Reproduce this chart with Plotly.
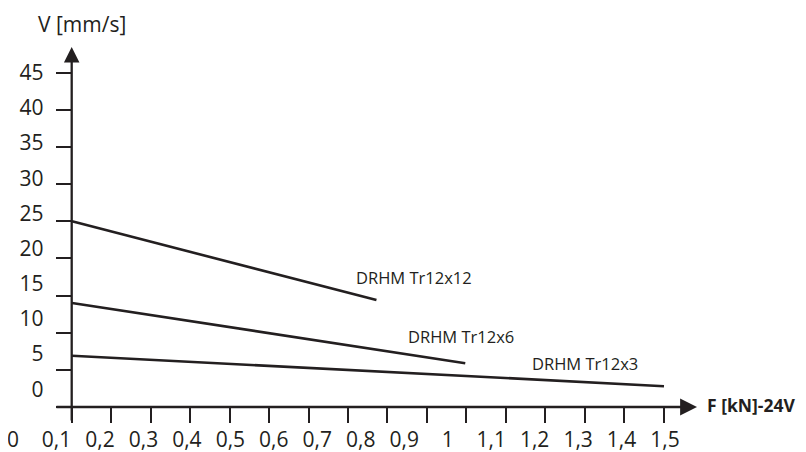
import plotly.graph_objects as go

# ---------------- data ----------------
series_names = ["DRHM Tr12x12", "DRHM Tr12x6", "DRHM Tr12x3"]
f_tr12x12 = [0.10, 0.82]
v_tr12x12 = [25.0, 14.4]
f_tr12x6 = [0.10, 1.03]
v_tr12x6 = [14.0, 5.9]
f_tr12x3 = [0.10, 1.50]
v_tr12x3 = [6.9, 2.8]

x_tick_values = [0, 0.1, 0.2, 0.3, 0.4, 0.5, 0.6, 0.7, 0.8, 0.9, 1.0, 1.1, 1.2, 1.3, 1.4, 1.5]
x_tick_labels = ["0", "0,1", "0,2", "0,3", "0,4", "0,5", "0,6", "0,7", "0,8", "0,9", "1",
                 "1,1", "1,2", "1,3", "1,4", "1,5"]
x_mark_values = [0.1, 0.2, 0.3, 0.4, 0.5, 0.6, 0.7, 0.8, 0.9, 1.0, 1.1, 1.2, 1.3, 1.4, 1.5, 1.6]
y_tick_values = [0, 5, 10, 15, 20, 25, 30, 35, 40, 45]
y_tick_labels = ["0", "5", "10", "15", "20", "25", "30", "35", "40", "45"]
y_mark_values = [0, 5, 10, 15, 20, 25, 30, 35, 40, 45]

x_title = "F [kN]-24V"
y_title = "V [mm/s]"

# label anchor points for the series names (data units)
name_x = [0.909, 1.02, 1.313]
name_y = [17.5, 9.5, 5.9]

# ---------------- geometry / style ----------------
OFF = 8                                       # page body margin of the html page
W, H = 806 - OFF, 452 - OFF                   # figure size
PL, PR, PT, PB = 8.0, 697.0, 47.0, 406.7      # plot area in window px
AX_X = 71.7                                   # window px of vertical axis line
INK = "#231f20"
FONT = "Open Sans, Noto Sans, DejaVu Sans, sans-serif"

# data scale: x 0.1 at 72px, 1.5 at 664px ; y 0 at 406.7px, 45 at 72.7px
xd_per = (664 - 72) / 1.4
yd_per = (PB - 72.7) / 45
# label scale (as printed)
xl0, xl_per = 13.0, 434.7
yl0, yl_per = 389.0, (389 - 72.7) / 45
# tick-mark scale (as printed)
xm_per = 394.7

x_range = [0.1 - (72 - PL) / xd_per, 0.1 + (PR - 72) / xd_per]
x2_range = [(PL - xl0) / xl_per, (PR - xl0) / xl_per]
x3_range = [0.1 - (AX_X - PL) / xm_per, 0.1 + (PR - AX_X) / xm_per]
y_range = [0, (PB - PT) / yd_per]
y2_range = [(yl0 - PB) / yl_per, (yl0 - PT) / yl_per]


def px_x(p):
    return (p - PL) / (PR - PL)


def px_y(p):
    return (PB - p) / (PB - PT)


ax_pos = px_x(AX_X)

fig = go.Figure()
for fx, vy in [(f_tr12x12, v_tr12x12), (f_tr12x6, v_tr12x6), (f_tr12x3, v_tr12x3)]:
    fig.add_trace(go.Scatter(x=fx, y=vy, mode="lines",
                             line=dict(color=INK, width=2.6),
                             showlegend=False, hoverinfo="skip"))
# empty helper traces so the overlay axes get drawn
fig.add_trace(go.Scatter(x=[None], y=[None], xaxis="x2", yaxis="y", showlegend=False, hoverinfo="skip"))
fig.add_trace(go.Scatter(x=[None], y=[None], xaxis="x3", yaxis="y", showlegend=False, hoverinfo="skip"))
fig.add_trace(go.Scatter(x=[None], y=[None], xaxis="x", yaxis="y2", showlegend=False, hoverinfo="skip"))

base = dict(showgrid=False, zeroline=False, showline=False, fixedrange=True, automargin=False)

fig.update_layout(
    width=W, height=H,
    margin=dict(l=PL - OFF, r=W - (PR - OFF), t=PT - OFF, b=H - (PB - OFF), pad=0),
    paper_bgcolor="white", plot_bgcolor="white",
    font=dict(family=FONT, color=INK, size=20),
    xaxis=dict(**base, range=x_range, showticklabels=False, ticks=""),
    xaxis2=dict(**base, range=x2_range, overlaying="x", anchor="y", side="bottom",
                tickmode="array", tickvals=x_tick_values, ticktext=x_tick_labels,
                ticks="outside", ticklen=14, tickcolor="rgba(0,0,0,0)",
                ticklabeloverflow="allow",
                tickfont=dict(family=FONT, size=21, color=INK)),
    xaxis3=dict(**base, range=x3_range, overlaying="x", anchor="y", side="bottom",
                tickmode="array", tickvals=x_mark_values, showticklabels=False,
                ticks="outside", ticklen=15, tickwidth=2, tickcolor=INK),
    yaxis=dict(**base, range=y_range, anchor="free", position=ax_pos, side="left",
               tickmode="array", tickvals=y_mark_values, showticklabels=False,
               ticks="outside", ticklen=16, tickwidth=2, tickcolor=INK),
    yaxis2=dict(**base, range=y2_range, overlaying="y", anchor="free", position=ax_pos, side="left",
                tickmode="array", tickvals=y_tick_values, ticktext=y_tick_labels,
                ticks="outside", ticklen=24, tickcolor="rgba(0,0,0,0)",
                tickfont=dict(family=FONT, size=21, color=INK)),
)

ann = []
# horizontal axis with arrow
ann.append(dict(xref="paper", yref="paper", x=1, y=0, ax=-(PR - 55), ay=0, text="",
                showarrow=True, arrowhead=2, arrowsize=1.3, arrowwidth=2.6, arrowcolor=INK))
# vertical axis with arrow
ann.append(dict(xref="paper", yref="paper", x=ax_pos, y=1, ax=0, ay=(422 - PT), text="",
                showarrow=True, arrowhead=2, arrowsize=1.35, arrowwidth=2.3, arrowcolor=INK))
# axis titles
ann.append(dict(xref="paper", yref="paper", x=px_x(705), y=0, yshift=2,
                xanchor="left", yanchor="middle", text="<b>" + x_title + "</b>", showarrow=False,
                font=dict(family=FONT, size=17.5, color=INK)))
ann.append(dict(xref="paper", yref="paper", x=px_x(81.5), y=px_y(24),
                xanchor="center", yanchor="middle", text=y_title, showarrow=False,
                font=dict(family=FONT, size=21, color=INK)))
# series names
for name, nx, ny in zip(series_names, name_x, name_y):
    ann.append(dict(xref="x", yref="y", x=nx, y=ny, xanchor="center", yanchor="middle",
                    text=name, showarrow=False, font=dict(family=FONT, size=16.5, color=INK)))
fig.update_layout(annotations=ann)

fig.write_html("out.html")
